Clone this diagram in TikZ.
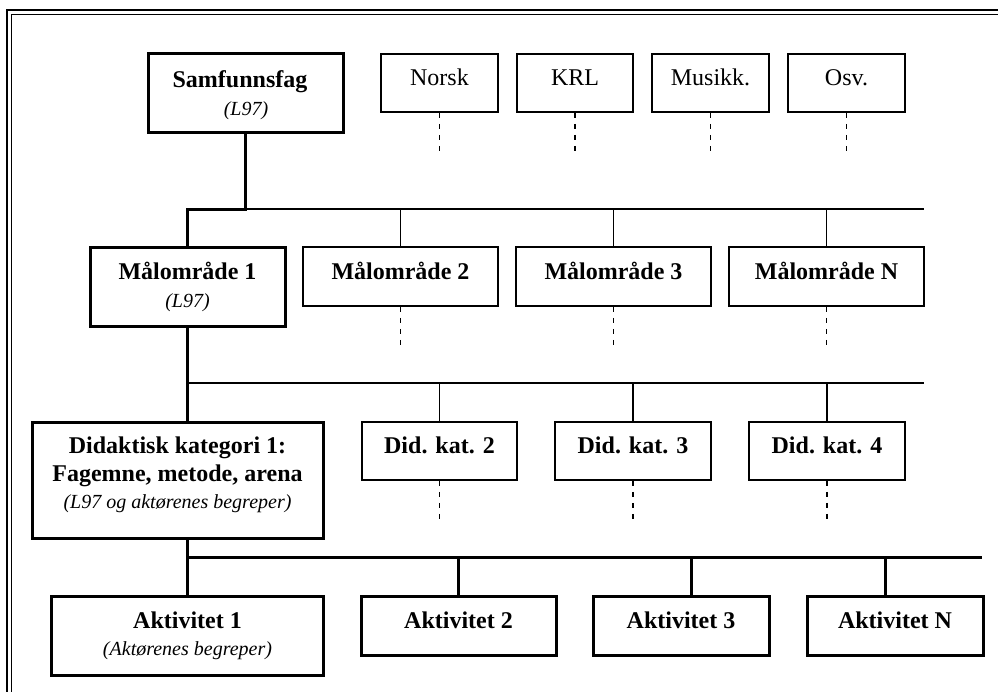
\documentclass[tikz,border=0pt]{standalone}
\usepackage{fontspec}
\setmainfont{Liberation Serif}
\begin{document}
\begin{tikzpicture}[x=0.5pt,y=-0.5pt,
  thinbox/.style={draw, line width=0.8pt, inner sep=0pt},
  thickbox/.style={draw, line width=1.5pt, inner sep=0pt},
  bt/.style={inner sep=0pt, anchor=base, font=\fontsize{12pt}{14pt}\selectfont\bfseries},
  rt/.style={inner sep=0pt, anchor=base, font=\fontsize{12pt}{14pt}\selectfont},
  it/.style={inner sep=0pt, anchor=base, font=\fontsize{10pt}{12pt}\selectfont\itshape},
  thinline/.style={line width=0.8pt},
  thickline/.style={line width=1.5pt},
  dsh/.style={line width=0.8pt, dash pattern=on 2.5pt off 3pt}
]
\useasboundingbox (0,0) rectangle (998,692);
% frame
\draw[line width=1.3pt] (7,692) -- (7,10) -- (998,10);
\draw[line width=0.6pt] (11.5,692) -- (11.5,14.5) -- (998,14.5);

% top row
\node[thickbox, minimum width=97.5pt, minimum height=39.5pt] (samf) at (245.5,92.5) {};
\node[bt] (samft) at (240,87) {Samfunnsfag};
\node[it] (samfl) at (246,115) {(L97)};

\node[thinbox, minimum width=58.5pt, minimum height=29pt] (norsk) at (439.5,83) {};
\node[rt] (norskt) at (439.5,85) {Norsk};
\node[thinbox, minimum width=58pt, minimum height=29pt] (krl) at (575,83) {};
\node[rt] (krlt) at (575,85) {KRL};
\node[thinbox, minimum width=58.5pt, minimum height=29pt] (mus) at (710.5,83) {};
\node[rt] (must) at (710.5,85) {Musikk.};
\node[thinbox, minimum width=58.5pt, minimum height=29pt] (osv) at (846.5,83) {};
\node[rt] (osvt) at (846.5,85) {Osv.};
\foreach \n in {norsk,krl,mus,osv} \draw[dsh] (\n.south) -- ++(0,39);

% maalomraade row
\node[thickbox, minimum width=97.5pt, minimum height=39.5pt] (m1) at (187.5,286.5) {};
\node[bt] (m1t) at (187.5,279) {Målområde 1};
\node[it] (m1l) at (187.5,307) {(L97)};
\node[thinbox, minimum width=97.5pt, minimum height=29.5pt] (m2) at (400.5,276.5) {};
\node[bt] (m2t) at (400.5,279) {Målområde 2};
\node[thinbox, minimum width=97.5pt, minimum height=29.5pt] (m3) at (613.5,276.5) {};
\node[bt] (m3t) at (613.5,279) {Målområde 3};
\node[thinbox, minimum width=97.5pt, minimum height=29.5pt] (mN) at (826.5,276.5) {};
\node[bt] (mNt) at (826.5,279) {Målområde N};
\foreach \n in {m2,m3,mN} \draw[dsh] (\n.south) -- ++(0,39);

\coordinate (b1L) at (187.5,209);
\coordinate (b1R) at (924,209);
\draw[thinline] (samf.south |- b1L) -- (b1R);
\foreach \n in {m2,m3,mN} \draw[thinline] (\n.north |- b1L) -- (\n.north);
\draw[thickline] (samf.south) |- (b1L) -- (m1.north);

% didaktisk row
\node[thickbox, minimum width=145.5pt, minimum height=58pt] (d1) at (177.5,480) {};
\node[bt] (d1a) at (177.5,453) {Didaktisk kategori 1:};
\node[bt] (d1b) at (177.5,481) {Fagemne, metode, arena};
\node[it] (d1c) at (177.5,508) {(L97 og aktørenes begreper)};
\node[thinbox, minimum width=77.5pt, minimum height=29pt] (d2) at (439.5,451) {};
\node[bt] (d2t) at (439.5,453) {Did. kat. 2};
\node[thinbox, minimum width=78pt, minimum height=29pt] (d3) at (633,451) {};
\node[bt] (d3t) at (633,453) {Did. kat. 3};
\node[thinbox, minimum width=78pt, minimum height=29pt] (d4) at (827,451) {};
\node[bt] (d4t) at (827,453) {Did. kat. 4};
\foreach \n in {d2,d3,d4} \draw[dsh] (\n.south) -- ++(0,39);

\coordinate (b2L) at (187.5,383);
\coordinate (b2R) at (924,383);
\draw[thinline] (b2L) -- (b2R);
\foreach \n in {d2,d3,d4} \draw[thinline] (\n.north |- b2L) -- (\n.north);
\draw[thickline] (m1.south) -- (m1.south |- d1.north);

% aktivitet row
\node[thickbox, minimum width=136pt, minimum height=39.5pt] (a1) at (187,635.5) {};
\node[bt] (a1t) at (187.5,628) {Aktivitet 1};
\node[it] (a1l) at (187.5,655) {(Aktørenes begreper)};
\node[thickbox, minimum width=97.5pt, minimum height=29.5pt] (a2) at (458.5,625.5) {};
\node[bt] (a2t) at (458.5,628) {Aktivitet 2};
\node[thickbox, minimum width=88pt, minimum height=29.5pt] (a3) at (681,625.5) {};
\node[bt] (a3t) at (681,628) {Aktivitet 3};
\node[thickbox, minimum width=88pt, minimum height=29.5pt] (aN) at (895,625.5) {};
\node[bt] (aNt) at (895,628) {Aktivitet N};

\coordinate (b3L) at (187.5,557.5);
\coordinate (b3R) at (982,557.5);
\draw[thickline] (b3L) -- (b3R);
\draw[thickline] (m1.south |- d1.south) -- (m1.south |- a1.north);
\draw[thickline] (a2.north |- b3L) -- (a2.north);
\draw[thickline] ([xshift=5pt]a3.north |- b3L) -- ([xshift=5pt]a3.north);
\draw[thickline] ([xshift=-5pt]aN.north |- b3L) -- ([xshift=-5pt]aN.north);
\end{tikzpicture}
\end{document}
